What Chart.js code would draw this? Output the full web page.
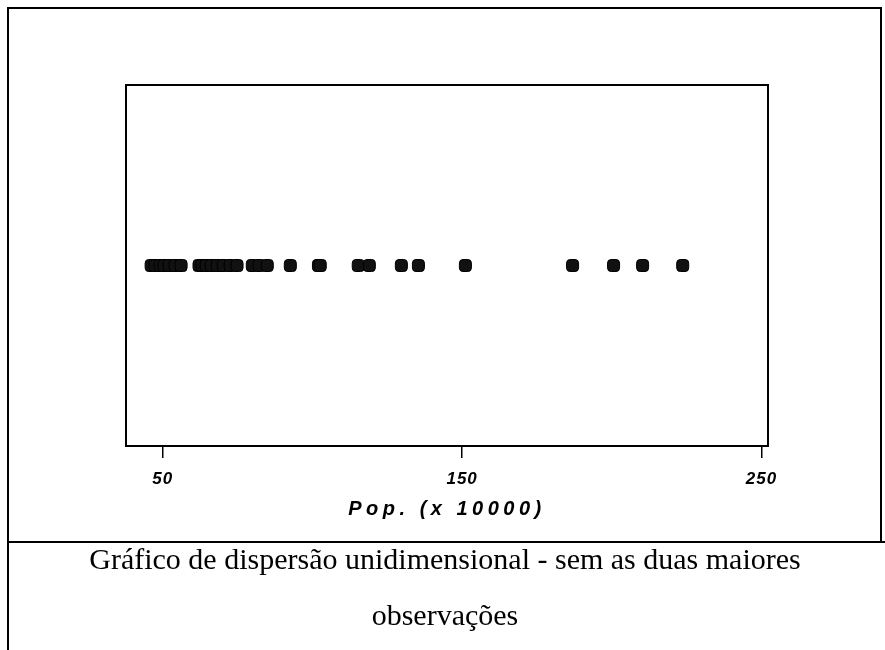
<!DOCTYPE html>
<html>
<head>
<meta charset="utf-8">
<script src="https://cdn.jsdelivr.net/npm/chart.js@4.4.1/dist/chart.umd.min.js"></script>
<style>
  html, body { margin:0; padding:0; background:#fff; width:885px; height:650px; overflow:hidden; }
  #wrap { position:relative; width:885px; height:650px; }
  #chart { position:absolute; left:0; top:0; }
  .frame { position:absolute; left:7px; top:7px; width:871px; height:534px;
           border-top:2px solid #000; border-left:2px solid #000; border-right:2px solid #000; }
  .lower { position:absolute; left:7px; top:541px; width:900px; height:200px;
           border-top:2px solid #000; border-left:2px solid #000; }
  .caption { position:absolute; left:9px; top:531px; width:872px; text-align:center;
             font-family:"Liberation Serif","Times New Roman",serif; font-size:30px; line-height:56px; color:#000; }
</style>
</head>
<body>
<div id="wrap">
  <div class="frame"></div>
  <div class="lower"></div>
  <canvas id="chart" width="885" height="545"></canvas>
  <div class="caption">Gráfico de dispersão unidimensional - sem as duas maiores<br>observações</div>
</div>
<script>
// ── data (population, x 10000) ──
const popValues = [
    46.1, 47.4, 49.1, 50.4, 52.1, 54.1, 56.1,
    62.1, 63.1, 64.5, 66.2, 68.2, 70.2, 72.5, 74.8,
    79.9, 82.2, 84.9, 92.6, 102.0, 102.6,
    115.3, 119.0, 129.7, 135.4, 151.1,
    186.9, 200.6, 210.3, 223.7
];
const xTicks = [50, 150, 250];
const axisTitle = 'Pop. (x 10000)';
const X_MIN = 37.7, X_MAX = 252.2;

const LABEL_FONT = 'Liberation Sans, Arial, sans-serif';

// box round the plot area + letter spacing for the axis texts
const plotBox = {
    id: 'plotBox',
    beforeDraw(chart) { chart.ctx.letterSpacing = '4.5px'; },      // axis title
    beforeDatasetsDraw(chart) { chart.ctx.letterSpacing = '1px'; }, // tick labels (z:1)
    afterDraw(chart) {
        const {ctx, chartArea:a} = chart;
        ctx.save();
        ctx.letterSpacing = '0px';
        ctx.lineWidth = 2; ctx.strokeStyle = '#000';
        ctx.strokeRect(a.left, a.top, a.right - a.left, a.bottom - a.top);
        ctx.restore();
        ctx.letterSpacing = '0px';
    }
};

new Chart(document.getElementById('chart').getContext('2d'), {
    type: 'scatter',
    plugins: [plotBox],
    data: {
        datasets: [{
            data: popValues.map(v => ({x: v, y: 0})),
            pointStyle: 'rectRounded', pointRadius: 7,
            backgroundColor: '#111', borderColor: '#000', borderWidth: 1
        }]
    },
    options: {
        responsive: false, animation: false,
        layout: { padding: { left: 126, right: 117, top: 85, bottom: 0 } },
        plugins: { legend: { display: false }, tooltip: { enabled: false } },
        scales: {
            x: {
                type: 'linear', min: X_MIN, max: X_MAX,
                afterBuildTicks: (s) => { s.ticks = xTicks.map(v => ({value: v})); },
                afterFit: (s) => { s.height = 99; },
                grid: { drawOnChartArea: false, drawTicks: true, tickLength: 12, color: '#000', lineWidth: 1.5 },
                border: { display: false },
                ticks: { z: 1, padding: 11, color: '#000', autoSkip: false, maxRotation: 0,
                         font: { family: LABEL_FONT, size: 17, style: 'italic', weight: 'bold' } },
                title: { display: true, text: axisTitle, color: '#000',
                         font: { family: LABEL_FONT, size: 20, style: 'italic', weight: 'bold', lineHeight: 1.2 },
                         padding: { top: 0, bottom: 24 } }
            },
            y: { display: false, min: -1, max: 1 }
        }
    }
});
</script>
</body>
</html>
